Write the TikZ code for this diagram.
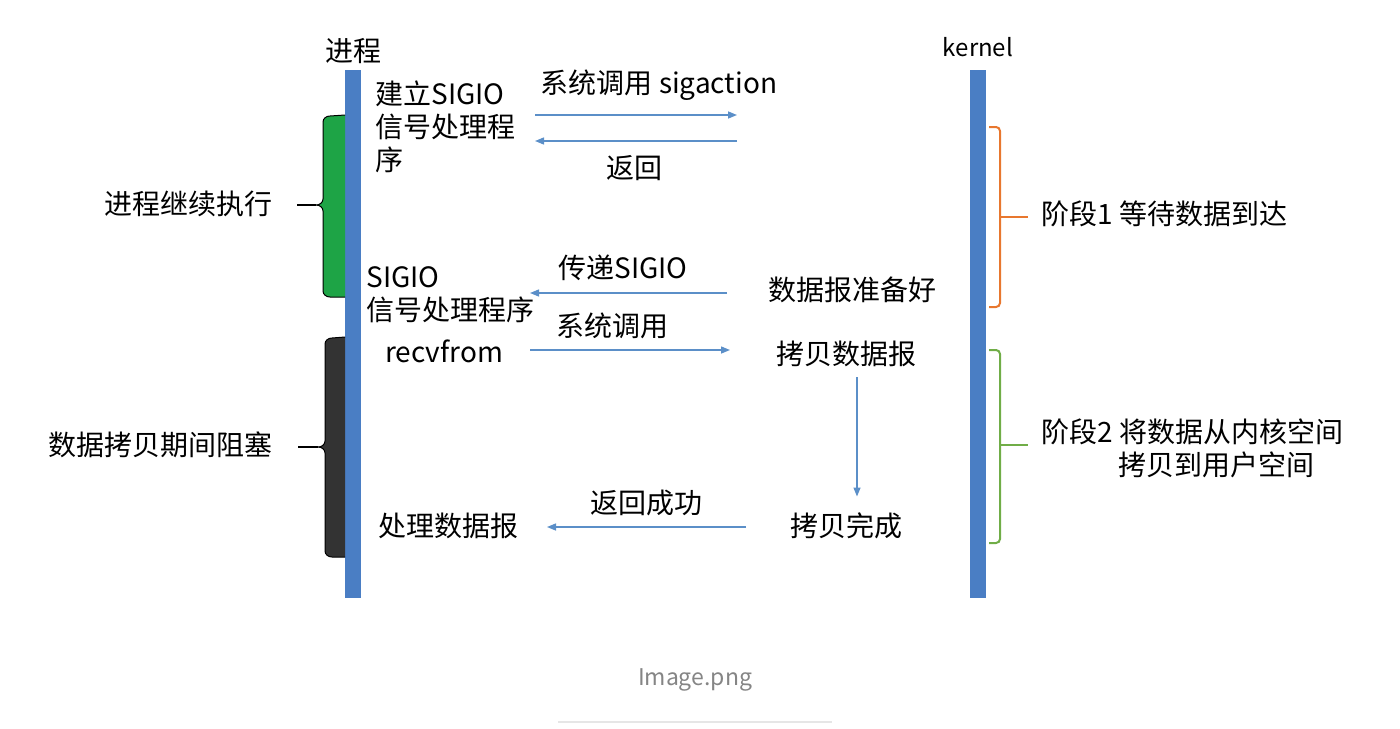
\documentclass[tikz,border=0pt]{standalone}
\usepackage{fontspec}
\setmainfont{Noto Sans CJK SC}
\usetikzlibrary{arrows.meta,positioning}
\definecolor{lanec}{HTML}{4A7EC4}
\definecolor{msgc}{HTML}{5B8FC8}
\definecolor{okg}{HTML}{1EA446}
\definecolor{blk}{HTML}{333333}
\definecolor{ph1}{HTML}{E8772E}
\definecolor{ph2}{HTML}{70AD47}
\definecolor{muted}{HTML}{858585}
\definecolor{line}{HTML}{E6E6E6}

\begin{document}
\begin{tikzpicture}[x=0.5pt,y=-0.5pt,
    txt/.style={inner sep=0pt, align=left, font=\fontsize{14pt}{16.5pt}\selectfont},
    msg/.style={draw=msgc, line width=0.7pt, -{Triangle[length=4.5pt,width=3.5pt]}},
    lane/.style={fill=lanec, inner sep=0pt, minimum width=8pt, minimum height=264pt}]
  \useasboundingbox (0,0) rectangle (1400,728);

  % the two time lines
  \node[lane] (proc) at (353,334) {};
  \node[lane] (kern) at (978,334) {};
  \node[txt, above=3pt of proc.north] (procl) {进程};
  \node[txt, above=6pt of kern.north, font=\fontsize{12pt}{14pt}\selectfont] (kernl) {kernel};

  % process side
  \node[txt, anchor=north west] (setup) at (375,80) {建立SIGIO\\信号处理程\\序};
  \node[txt, anchor=north west] (sigio) at (366,266) {SIGIO\\信号处理程序};
  \node[txt, anchor=west] (recv) at (385,351) {recvfrom};
  \node[txt, anchor=west] (handle) at (378,526) {处理数据报};

  % kernel side
  \node[txt] (ready) at (852,290) {数据报准备好};
  \node[txt] (copy) at (846,354) {拷贝数据报};
  \node[txt] (done) at (846,526) {拷贝完成};

  % messages
  \coordinate (m1a) at (535,115); \coordinate (m1b) at (737,115);
  \coordinate (m2a) at (737,141); \coordinate (m2b) at (535,141);
  \coordinate (m3a) at (727,293); \coordinate (m3b) at (530,293);
  \coordinate (m4a) at (530,350); \coordinate (m4b) at (730,350);
  \coordinate (m5a) at (746,527); \coordinate (m5b) at (547,527);
  \draw[msg] (m1a) -- (m1b);
  \draw[msg] (m2a) -- (m2b);
  \draw[msg] (m3a) -- (m3b);
  \draw[msg] (m4a) -- (m4b);
  \draw[msg] (m5a) -- (m5b);
  \draw[msg] ([xshift=5.5pt,yshift=-5pt]copy.south) -- ([xshift=5.5pt,yshift=8pt]done.north);
  \node[txt] (m1l) at (659,85) {系统调用 sigaction};
  \node[txt] (m2l) at (634,168) {返回};
  \node[txt] (m3l) at (623,268) {传递SIGIO};
  \node[txt] (m4l) at (612,326) {系统调用};
  \node[txt] (m5l) at (646,503) {返回成功};

  % braces on the process side
  \draw[fill=okg, draw=black, line width=0.5pt]
    (345,115) -- (330,116) to[out=180,in=90] (323,122) -- (323,199)
    to[out=-90,in=0] (316,205) to[out=0,in=90] (323,211) -- (323,291)
    to[out=-90,in=180] (330,297) -- (345,297);
  \draw[line width=0.6pt] (297,205) -- (316,205);
  \draw[fill=blk, draw=black, line width=0.5pt]
    (345,337) -- (332,338) to[out=180,in=90] (325,344) -- (325,441)
    to[out=-90,in=0] (318,447) to[out=0,in=90] (325,453) -- (325,551)
    to[out=-90,in=180] (332,557) -- (345,557);
  \draw[line width=0.6pt] (298,447) -- (318,447);
  \node[txt, anchor=east] (cont) at (273,204) {进程继续执行};
  \node[txt, anchor=east] (block) at (273,445) {数据拷贝期间阻塞};

  % phases on the kernel side
  \draw[ph1, line width=1pt, rounded corners=2pt]
    (989,127) -- (1000,127) -- (1000,307) -- (989,307);
  \draw[ph1, line width=1pt] (1000,217) -- (1028,217);
  \draw[ph2, line width=1pt, rounded corners=2pt]
    (989,350) -- (1000,350) -- (1000,543) -- (989,543);
  \draw[ph2, line width=1pt] (1000,445) -- (1028,445);
  \node[txt, anchor=west] (p1) at (1041,214) {阶段1 等待数据到达};
  \node[txt, anchor=west] (p2) at (1041,432) {阶段2 将数据从内核空间};
  \node[txt, anchor=west] (p2b) at (1118,465) {拷贝到用户空间};

  % caption
  \node[txt, text=muted, font=\fontsize{11.5pt}{14pt}\selectfont] (cap) at (695,680) {Image.png};
  \draw[line, line width=0.6pt] (558,722) -- (832,722);
\end{tikzpicture}
\end{document}
